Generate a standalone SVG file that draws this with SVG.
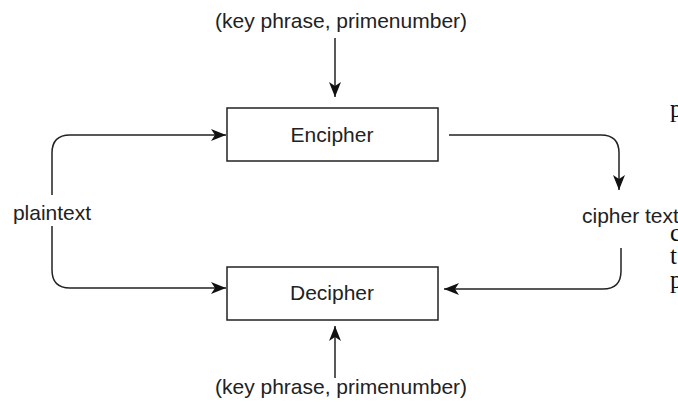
<svg xmlns="http://www.w3.org/2000/svg" width="678" height="404" viewBox="0 0 678 404">
<defs>
<style>
.lbl{font-family:"Liberation Sans",Arial,Helvetica,sans-serif;font-size:21px;fill:#222;}
.mid{text-anchor:middle;}
.box{fill:#fff;stroke:#222;stroke-width:1.5;}
.edge{fill:none;stroke:#222;stroke-width:1.5;}
.serif{font-family:"Liberation Serif","Times New Roman",serif;font-size:25px;fill:#111;}
</style>
<marker id="arr" markerUnits="userSpaceOnUse" markerWidth="16" markerHeight="14" viewBox="0 0 16 14" refX="15" refY="7" orient="auto">
<path d="M0,1 L15,7 L0,13 L4,7 Z" fill="#111"/>
</marker>
</defs>
<rect width="678" height="404" fill="#fff"/>
<g id="connectors">
<path class="edge" d="M335 38 V97" marker-end="url(#arr)"/>
<path class="edge" d="M52 195 V153 Q52 135 70 135 H226" marker-end="url(#arr)"/>
<path class="edge" d="M52 226 V270 Q52 288 70 288 H226" marker-end="url(#arr)"/>
<path class="edge" d="M449 135 H601 Q619 135 619 153 V190" marker-end="url(#arr)"/>
<path class="edge" d="M621 248 V271 Q621 289 603 289 H444" marker-end="url(#arr)"/>
<path class="edge" d="M335 378 V326" marker-end="url(#arr)"/>
</g>
<g id="key-top">
<text class="lbl mid" x="341" y="28">(key phrase, primenumber)</text>
</g>
<g id="encipher">
<rect class="box" x="227" y="108" width="211" height="53"/>
<text class="lbl mid" x="332" y="142">Encipher</text>
</g>
<g id="decipher">
<rect class="box" x="227" y="267" width="211" height="53"/>
<text class="lbl mid" x="332" y="300">Decipher</text>
</g>
<g id="key-bottom">
<text class="lbl mid" x="341" y="394">(key phrase, primenumber)</text>
</g>
<g id="plaintext">
<text class="lbl mid" x="52" y="220">plaintext</text>
</g>
<g id="ciphertext">
<text class="lbl" x="582" y="223">cipher text</text>
</g>
<g id="page-fragment">
<text class="serif" x="670" y="117">p</text>
<text class="serif" x="670" y="241">c</text>
<text class="serif" x="670" y="264">t</text>
<text class="serif" x="670" y="288">p</text>
</g>
</svg>
